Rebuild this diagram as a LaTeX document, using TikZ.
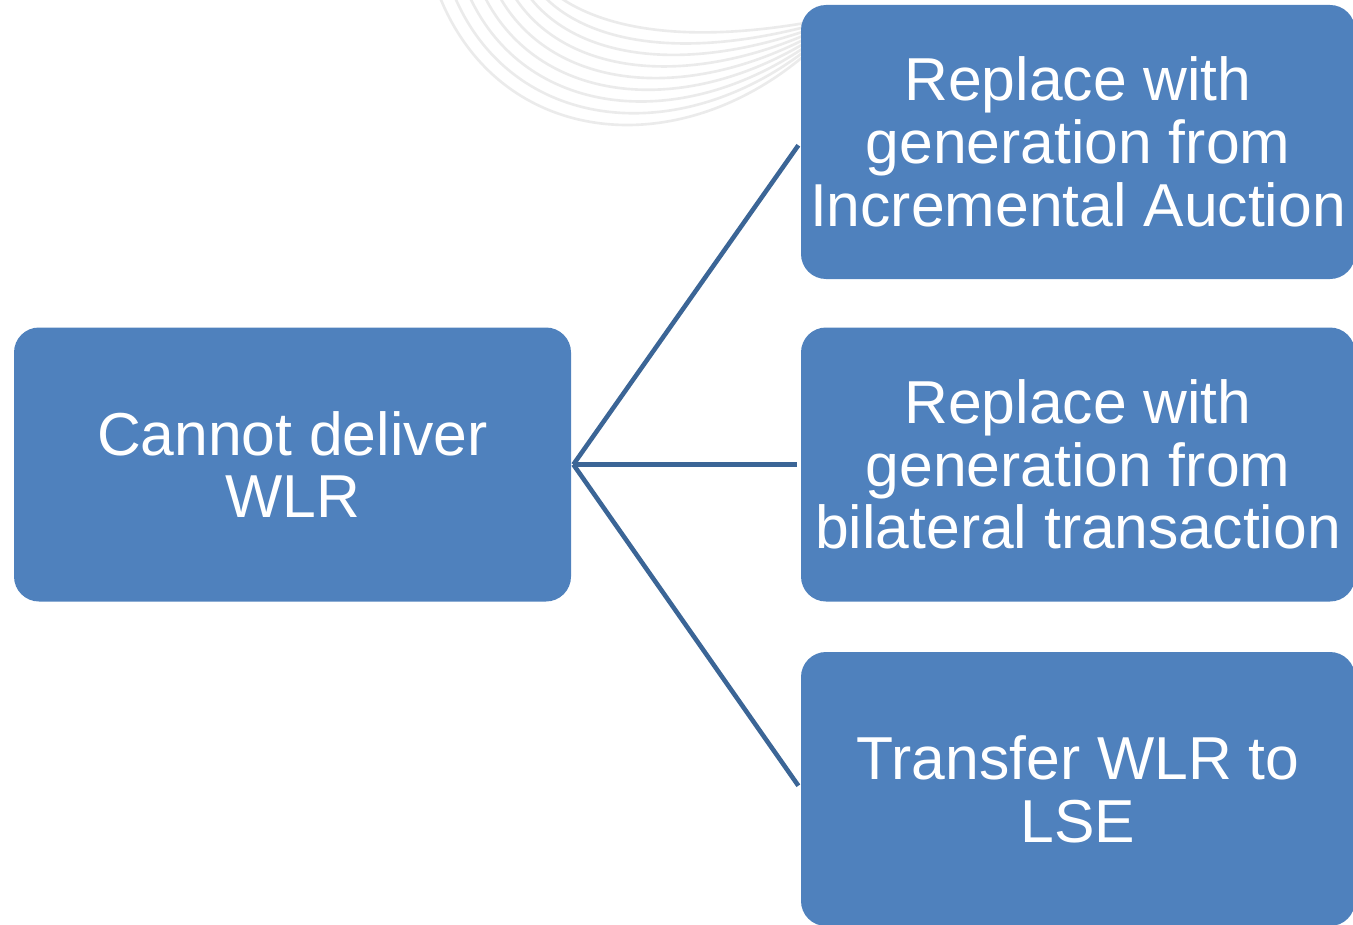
\documentclass[tikz,border=0pt]{standalone}
\usepackage{fontspec}
\setmainfont{Liberation Sans}
\usetikzlibrary{positioning}

\definecolor{boxblue}{HTML}{4F81BD}
\definecolor{linkblue}{HTML}{3B6596}
\definecolor{swirl}{HTML}{EBEBEB}

\begin{document}
\begin{tikzpicture}[box/.style={rectangle, rounded corners=0.5cm, fill=boxblue,
    text=white, align=center, minimum height=5.48cm,
    font=\fontsize{34.5pt}{35.7pt}\selectfont},
  link/.style={draw=linkblue, line width=2.6pt, shorten >=0.08cm}]
  \useasboundingbox (0,0) rectangle (27.06,-18.48);
  % faint swirl behind the top box
  \foreach \i in {0,...,8}
    \draw[swirl, line width=1.5pt] (8.8+0.3*\i,0.05) .. controls (10+0.25*\i,-2.9+0.3*\i) and (13.5,-3.3+0.3*\i) .. (16.1,-1.1+0.08*\i);
  \node[box, minimum width=11.14cm] (root) at (5.85,-9.29) {Cannot deliver\\WLR};
  \node[box, minimum width=11.08cm] (ia) at (21.56,-2.84) {Replace with\\generation from\\Incremental Auction};
  \node[box, minimum width=11.08cm] (bt) at (21.56,-9.29) {Replace with\\generation from\\bilateral transaction};
  \node[box, minimum width=11.08cm] (lse) at (21.56,-15.78) {Transfer WLR to\\LSE};
  \draw[link] ([xshift=0.04cm]root.east) -- (ia.west);
  \draw[link] ([xshift=0.04cm]root.east) -- (bt.west);
  \draw[link] ([xshift=0.04cm]root.east) -- (lse.west);
\end{tikzpicture}
\end{document}
